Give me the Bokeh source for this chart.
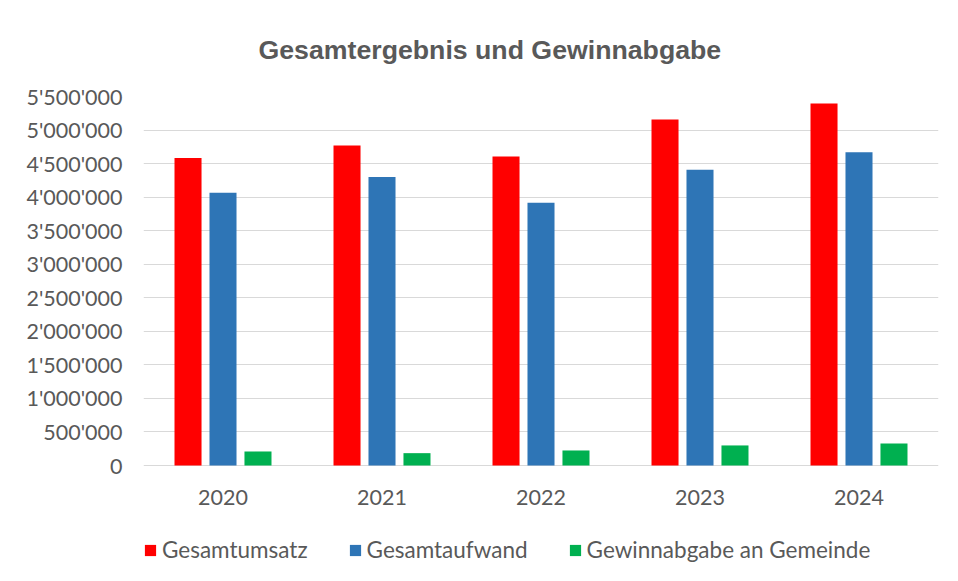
from bokeh.plotting import figure
from bokeh.models import ColumnDataSource, FixedTicker, Legend, LegendItem
from bokeh.core.properties import value
from bokeh.transform import dodge
from bokeh.embed import file_html
from bokeh.resources import INLINE

years = ["2020", "2021", "2022", "2023", "2024"]
gesamtumsatz = [4585000, 4768000, 4604000, 5157000, 5396000]
gesamtaufwand = [4066000, 4300000, 3916000, 4410000, 4668000]
gewinnabgabe = [209000, 184000, 224000, 299000, 329000]
series_names = ["Gesamtumsatz", "Gesamtaufwand", "Gewinnabgabe an Gemeinde"]
series_colors = ["#FF0000", "#2E75B6", "#00B050"]
y_ticks = [0, 500000, 1000000, 1500000, 2000000, 2500000, 3000000,
           3500000, 4000000, 4500000, 5000000, 5500000]
y_tick_labels = ["0", "500'000", "1'000'000", "1'500'000", "2'000'000", "2'500'000",
                 "3'000'000", "3'500'000", "4'000'000", "4'500'000", "5'000'000", "5'500'000"]

source = ColumnDataSource(dict(years=years, s0=gesamtumsatz, s1=gesamtaufwand, s2=gewinnabgabe))

TXT = "#595959"
W, H = 950, 573
TOP, LEFT, RIGHT = 96, 143, 938
AXIS_PX = 369  # pixel height between 0 and 5'500'000
y_max = y_ticks[-1]
y_min = -(H - TOP - AXIS_PX) * y_max / AXIS_PX

p = figure(x_range=years, y_range=(y_min, y_max), width=W, height=H,
           output_backend="svg", toolbar_location=None,
           min_border_left=LEFT, min_border_right=W - RIGHT, min_border_bottom=0, min_border_top=TOP)
p.title.text = "Gesamtergebnis und Gewinnabgabe"
p.title.align = "left"
p.title.offset = 115
p.title.text_font = "Liberation Sans"
p.title.text_font_size = "26.7px"
p.title.text_font_style = "bold"
p.title.text_color = TXT
p.title.standoff = 63

offsets = [-0.22, 0.0, 0.22]
renderers = []
for i, (name, col) in enumerate(zip(series_names, series_colors)):
    r = p.vbar(x=dodge("years", offsets[i], range=p.x_range), top="s%d" % i, width=0.17,
               source=source, fill_color=col, line_color=None)
    renderers.append(r)

# category labels under the baseline
p.text(x="years", y=0, text="years", source=source, y_offset=32,
       text_align="center", text_baseline="middle", text_font=value("Lato"),
       text_font_size="21.5px", text_color=TXT)

p.outline_line_color = None
p.background_fill_color = "white"
p.border_fill_color = "white"

p.xgrid.grid_line_color = None
p.ygrid.grid_line_color = "#D9D9D9"
p.ygrid.grid_line_width = 1

p.xaxis.visible = False

p.yaxis.ticker = FixedTicker(ticks=y_ticks)
p.yaxis.major_label_overrides = {t: l for t, l in zip(y_ticks, y_tick_labels)}
p.yaxis.axis_line_color = None
p.yaxis.major_tick_line_color = None
p.yaxis.minor_tick_line_color = None
p.yaxis.major_label_standoff = 15
p.yaxis.major_label_text_font = "Lato"
p.yaxis.major_label_text_font_size = "21.5px"
p.yaxis.major_label_text_color = TXT

legend = Legend(items=[LegendItem(label=n, renderers=[r]) for n, r in zip(series_names, renderers)],
                orientation="horizontal", location=(0, 10))
legend.label_text_font = "Lato"
legend.label_text_font_size = "22.5px"
legend.label_text_color = TXT
legend.glyph_width = 14
legend.glyph_height = 14
legend.label_standoff = 5
legend.spacing = 40
legend.border_line_color = None
legend.background_fill_alpha = 0
legend.padding = 0
legend.margin = 0
p.add_layout(legend)

open("out.html", "w").write(file_html(p, INLINE))
